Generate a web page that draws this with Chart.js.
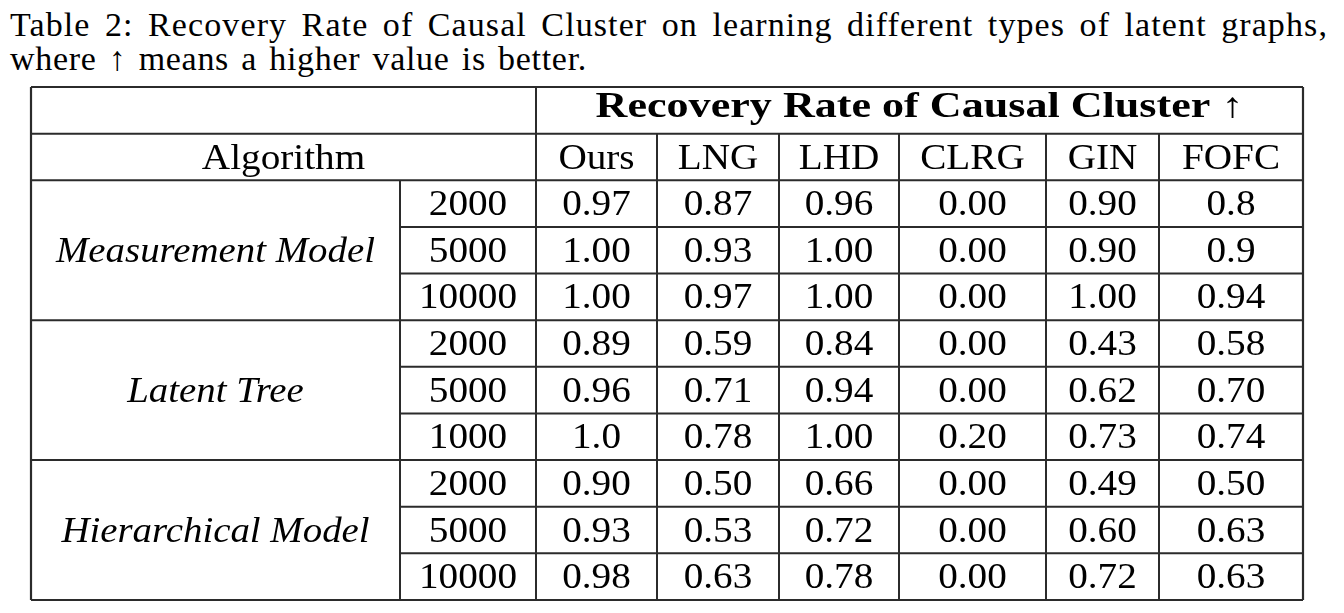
<!DOCTYPE html>
<html>
<head>
<meta charset="utf-8">
<script src="https://cdn.jsdelivr.net/npm/chart.js@4.4.1/dist/chart.umd.min.js"></script>
<style>
    html, body { margin: 0; padding: 0; background: #fff; }
    body { width: 1344px; height: 613px; position: relative; overflow: hidden; }
    .caption {
        position: absolute;
        left: 10px;
        width: 1318px;
        font-family: 'Liberation Serif', 'Times New Roman', serif;
        font-size: 34px;
        line-height: 34px;
        color: #000;
        white-space: nowrap;
        letter-spacing: 0.7px;
        word-spacing: 3px;
    }
    #cap1 { top: 8px; text-align: justify; text-align-last: justify; letter-spacing: 1.1px; }
    #cap2 { top: 42px; }
    #tableBox { position: absolute; left: 29px; top: 85px; width: 1276px; height: 517px; }
</style>
</head>
<body>
<div class="caption" id="cap1">Table 2: Recovery Rate of Causal Cluster on learning different types of latent graphs,</div>
<div class="caption" id="cap2">where ↑ means a higher value is better.</div>
<div id="tableBox"><canvas id="tableChart"></canvas></div>

<script>
const headerTitle = 'Recovery Rate of Causal Cluster ↑';
const algorithmLabel = 'Algorithm';
const methods = ['Ours', 'LNG', 'LHD', 'CLRG', 'GIN', 'FOFC'];
const groups = ['Measurement Model', 'Latent Tree', 'Hierarchical Model'];
const sampleSizes = ['2000', '5000', '10000', '2000', '5000', '1000', '2000', '5000', '10000'];

const oursValues = ['0.97', '1.00', '1.00', '0.89', '0.96', '1.0', '0.90', '0.93', '0.98'];
const lngValues  = ['0.87', '0.93', '0.97', '0.59', '0.71', '0.78', '0.50', '0.53', '0.63'];
const lhdValues  = ['0.96', '1.00', '1.00', '0.84', '0.94', '1.00', '0.66', '0.72', '0.78'];
const clrgValues = ['0.00', '0.00', '0.00', '0.00', '0.00', '0.20', '0.00', '0.00', '0.00'];
const ginValues  = ['0.90', '0.90', '1.00', '0.43', '0.62', '0.73', '0.49', '0.60', '0.72'];
const fofcValues = ['0.8', '0.9', '0.94', '0.58', '0.70', '0.74', '0.50', '0.63', '0.63'];

const methodValues = [oursValues, lngValues, lhdValues, clrgValues, ginValues, fofcValues];

// ---- layout (table units along x, row units along y) ----
const colEdges = [0, 369, 505, 626, 748, 868, 1015, 1128, 1272];
const headerRows = 2;
const rowsPerGroup = 3;
const totalRows = headerRows + sampleSizes.length;

const FONT = "'Liberation Serif', 'Times New Roman', serif";
const LINE_COLOR = '#2b2b2b';
const TEXT_COLOR = '#000';
const STRETCH = 1.12;

function colCenter(c) {
    return (colEdges[c] + colEdges[c + 1]) / 2;
}

function drawText(ctx, text, x, y, font, stretch) {
    ctx.save();
    ctx.font = font;
    ctx.fillStyle = TEXT_COLOR;
    ctx.textAlign = 'center';
    ctx.textBaseline = 'alphabetic';
    ctx.translate(x, y);
    ctx.scale(stretch, 1);
    ctx.fillText(text, 0, 0);
    ctx.restore();
}

const tablePlugin = {
    id: 'tableGrid',
    afterDatasetsDraw(chart) {
        const ctx = chart.ctx;
        const xs = chart.scales.x;
        const ys = chart.scales.y;
        const px = v => xs.getPixelForValue(v);
        const py = v => ys.getPixelForValue(v);
        const size = 35;
        const base = size * 0.33;
        const plain = `${size}px ${FONT}`;

        // grid lines
        ctx.save();
        ctx.strokeStyle = LINE_COLOR;
        const hline = (r, c0, c1, w) => {
            ctx.lineWidth = w;
            ctx.beginPath();
            ctx.moveTo(px(colEdges[c0]), py(r));
            ctx.lineTo(px(colEdges[c1]), py(r));
            ctx.stroke();
        };
        const vline = (c, r0, r1, w) => {
            ctx.lineWidth = w;
            ctx.beginPath();
            ctx.moveTo(px(colEdges[c]), py(r0));
            ctx.lineTo(px(colEdges[c]), py(r1));
            ctx.stroke();
        };
        const last = colEdges.length - 1;
        for (let r = 0; r <= totalRows; r++) {
            const inGroup = r > headerRows && (r - headerRows) % rowsPerGroup !== 0;
            hline(r, inGroup ? 1 : 0, last, r === 0 || r === totalRows ? 2.2 : 2);
        }
        vline(0, 0, totalRows, 2.2);
        vline(last, 0, totalRows, 2.2);
        vline(2, 0, totalRows, 2);
        vline(1, headerRows, totalRows, 2);
        for (let c = 3; c < last; c++) vline(c, 1, totalRows, 2);
        ctx.restore();

        // header texts
        drawText(ctx, headerTitle, (px(colEdges[2]) + px(colEdges[last])) / 2,
            py(0.5) + size * 0.2, `bold ${size}px ${FONT}`, 1.26);
        drawText(ctx, algorithmLabel, (px(colEdges[0]) + px(colEdges[2])) / 2,
            py(1.5) + base, plain, STRETCH);

        // group labels spanning three rows
        groups.forEach((g, i) => {
            const mid = headerRows + i * rowsPerGroup + rowsPerGroup / 2;
            drawText(ctx, g, px(colCenter(0)), py(mid) + base, `italic ${size}px ${FONT}`, 1.11);
        });

        // cell values from the dataset elements
        chart.data.datasets.forEach((ds, di) => {
            const meta = chart.getDatasetMeta(di);
            meta.data.forEach((el, i) => {
                drawText(ctx, ds.labels[i], el.x, el.y + base, plain, STRETCH);
            });
        });
    }
};

const datasets = [];
datasets.push({
    label: 'N',
    labels: sampleSizes,
    data: sampleSizes.map((s, i) => ({ x: colCenter(1), y: headerRows + i + 0.5 }))
});
methods.forEach((m, mi) => {
    const labels = [m].concat(methodValues[mi]);
    datasets.push({
        label: m,
        labels: labels,
        data: labels.map((v, i) => ({ x: colCenter(mi + 2), y: 1 + i + 0.5 }))
    });
});

new Chart(document.getElementById('tableChart'), {
    type: 'scatter',
    data: { datasets: datasets },
    options: {
        responsive: true,
        maintainAspectRatio: false,
        animation: false,
        events: [],
        layout: { padding: 2 },
        elements: { point: { radius: 0, hoverRadius: 0 } },
        plugins: {
            legend: { display: false },
            tooltip: { enabled: false }
        },
        scales: {
            x: { type: 'linear', min: 0, max: colEdges[colEdges.length - 1], display: false },
            y: { type: 'linear', min: 0, max: totalRows, reverse: true, display: false }
        }
    },
    plugins: [tablePlugin]
});
</script>
</body>
</html>
